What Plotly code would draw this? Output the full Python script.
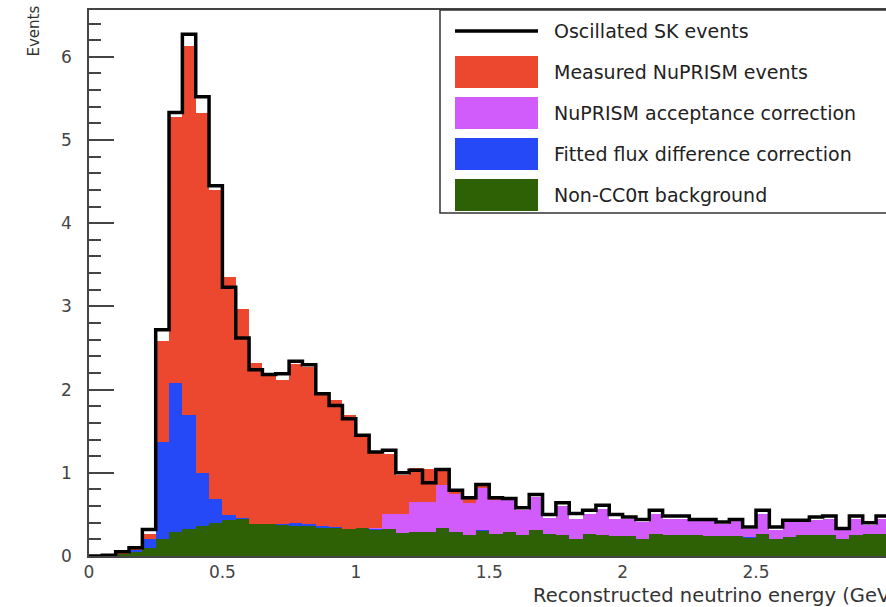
import numpy as np
import plotly.graph_objects as go

# 60 bins of 0.05 GeV from 0 to 3 GeV
bin_edges = np.round(np.arange(0, 3.0001, 0.05), 3)
bin_centres = (bin_edges[:-1] + bin_edges[1:]) / 2

# Oscillated SK events (black outline)
sk_events = [0.0, 0.01, 0.05, 0.10, 0.32, 2.72, 5.33, 6.27, 5.52, 4.45,
             3.23, 2.62, 2.24, 2.18, 2.19, 2.34, 2.30, 1.95, 1.81, 1.65,
             1.45, 1.25, 1.27, 1.00, 1.03, 0.88, 1.04, 0.79, 0.70, 0.86,
             0.70, 0.69, 0.58, 0.74, 0.50, 0.64, 0.51, 0.55, 0.61, 0.50,
             0.47, 0.44, 0.55, 0.48, 0.48, 0.44, 0.44, 0.41, 0.44, 0.35,
             0.55, 0.35, 0.43, 0.43, 0.47, 0.48, 0.33, 0.48, 0.40, 0.48]

# stack tops (cumulative), drawn back to front
measured_top = [0.0, 0.01, 0.05, 0.09, 0.27, 2.58, 5.28, 6.13, 5.32, 4.40,
                3.35, 2.97, 2.32, 2.16, 2.11, 2.31, 2.27, 1.93, 1.87, 1.69,
                1.44, 1.24, 1.23, 0.97, 1.06, 1.05, 1.06, 0.80, 0.68, 0.88,
                0.68, 0.67, 0.55, 0.71, 0.46, 0.60, 0.45, 0.51, 0.57, 0.45,
                0.45, 0.41, 0.51, 0.45, 0.44, 0.42, 0.42, 0.39, 0.43, 0.33,
                0.51, 0.31, 0.42, 0.41, 0.43, 0.44, 0.31, 0.45, 0.37, 0.45]

acceptance_top = [0.0, 0.0, 0.03, 0.07, 0.20, 1.37, 2.08, 1.69, 1.00, 0.69,
                  0.49, 0.46, 0.39, 0.39, 0.38, 0.40, 0.39, 0.36, 0.35, 0.33,
                  0.34, 0.34, 0.51, 0.51, 0.65, 0.65, 0.85, 0.74, 0.64, 0.82,
                  0.67, 0.67, 0.55, 0.71, 0.46, 0.60, 0.45, 0.51, 0.57, 0.45,
                  0.45, 0.41, 0.51, 0.45, 0.44, 0.42, 0.42, 0.39, 0.43, 0.33,
                  0.51, 0.31, 0.42, 0.41, 0.43, 0.44, 0.31, 0.45, 0.37, 0.45]

flux_top = [0.0, 0.0, 0.03, 0.07, 0.20, 1.37, 2.08, 1.69, 1.00, 0.69,
            0.49, 0.46, 0.39, 0.39, 0.38, 0.40, 0.39, 0.36, 0.35, 0.33,
            0.34, 0.32, 0.33, 0.28, 0.29, 0.29, 0.34, 0.29, 0.25, 0.31,
            0.27, 0.29, 0.25, 0.31, 0.26, 0.25, 0.21, 0.27, 0.25, 0.24,
            0.24, 0.20, 0.27, 0.25, 0.25, 0.25, 0.24, 0.24, 0.24, 0.23,
            0.27, 0.20, 0.23, 0.25, 0.25, 0.25, 0.20, 0.25, 0.27, 0.27]

background_top = [0.0, 0.0, 0.02, 0.05, 0.10, 0.21, 0.29, 0.33, 0.36, 0.40,
                  0.43, 0.44, 0.38, 0.38, 0.37, 0.36, 0.36, 0.34, 0.34, 0.33,
                  0.34, 0.31, 0.33, 0.28, 0.29, 0.29, 0.34, 0.29, 0.25, 0.30,
                  0.26, 0.29, 0.25, 0.31, 0.26, 0.25, 0.21, 0.27, 0.25, 0.24,
                  0.24, 0.20, 0.26, 0.25, 0.25, 0.25, 0.24, 0.24, 0.24, 0.22,
                  0.27, 0.20, 0.23, 0.25, 0.25, 0.25, 0.20, 0.25, 0.27, 0.27]

labels = ['Oscillated SK events', 'Measured NuPRISM events',
          'NuPRISM acceptance correction', 'Fitted flux difference correction',
          'Non-CC0\u03c0 background']
colours = ['#000000', '#EC4830', '#D25BFB', '#2549F7', '#2E6006']

FONT = 'DejaVu Sans'
W, H = 886, 607
L, R, T, B = 89, 0, 10, 51


def px(x, y):
    # pixel -> paper coords
    return (x - L) / (W - L - R), (H - B - y) / (H - T - B)


fig = go.Figure()

for top, col, name in zip([measured_top, acceptance_top, flux_top, background_top],
                          colours[1:], labels[1:]):
    fig.add_trace(go.Bar(x=bin_centres, y=top, width=0.05, name=name,
                         marker=dict(color=col, line=dict(width=0))))

fig.add_trace(go.Scatter(x=bin_edges, y=sk_events + [sk_events[-1]], mode='lines',
                         line=dict(color='black', width=3.5, shape='hv'),
                         name=labels[0]))

# legend drawn by hand (ROOT style box)
shapes = []
x0, y0 = px(440, 10)
x1, y1 = px(900, 213)
shapes.append(dict(type='rect', xref='paper', yref='paper', x0=x0, x1=x1, y0=y1, y1=y0,
                   line=dict(color='#333', width=1.5), fillcolor='white', layer='above'))
annotations = []
row_y = [31, 72, 113, 154, 195]
for i, (lab, col) in enumerate(zip(labels, colours)):
    yc = row_y[i]
    if i == 0:
        a, b = px(455, yc)
        c, d = px(538, yc)
        shapes.append(dict(type='line', xref='paper', yref='paper', x0=a, x1=c, y0=b, y1=d,
                           line=dict(color='black', width=3.5), layer='above'))
    else:
        a, b = px(455, yc - 16)
        c, d = px(538, yc + 16)
        shapes.append(dict(type='rect', xref='paper', yref='paper', x0=a, x1=c, y0=d, y1=b,
                           line=dict(width=0), fillcolor=col, layer='above'))
    tx, ty = px(552, yc)
    annotations.append(dict(text=lab, xref='paper', yref='paper', x=tx, y=ty,
                            xanchor='left', yanchor='middle', showarrow=False,
                            font=dict(family=FONT, size=19, color='#222')))

tx, ty = px(531, 595)
annotations.append(dict(text='Reconstructed neutrino energy (GeV)', xref='paper', yref='paper',
                        x=tx, y=ty, xanchor='left', yanchor='middle', showarrow=False,
                        font=dict(family=FONT, size=19.5, color='#333')))
tx, ty = px(33, 4)
annotations.append(dict(text='Events', xref='paper', yref='paper', x=tx, y=ty,
                        xanchor='center', yanchor='top', textangle=-90, showarrow=False,
                        font=dict(family=FONT, size=15, color='#333')))

fig.update_layout(
    width=W, height=H,
    margin=dict(l=L, r=R, t=T, b=B, autoexpand=False),
    barmode='overlay', bargap=0,
    showlegend=False,
    plot_bgcolor='white', paper_bgcolor='white',
    font=dict(family=FONT, color='#444'),
    shapes=shapes, annotations=annotations,
)
fig.update_xaxes(range=[0, (W - L - R) / 266.8], dtick=0.5, showgrid=False, zeroline=False,
                 showline=True, mirror=True, linecolor='#444', linewidth=1.5, automargin=False,
                 ticks='', tickfont=dict(size=17, color='#444'), ticklabelstandoff=0)
fig.update_yaxes(range=[0, (H - T - B) / 83.2], dtick=1, showgrid=False, zeroline=False,
                 showline=True, linecolor='#444', linewidth=1.5, automargin=False,
                 ticks='inside', ticklen=25, tickwidth=1.5, tickcolor='#444',
                 minor=dict(dtick=0.2, ticks='inside', ticklen=12, tickwidth=1.5, tickcolor='#444'),
                 tickfont=dict(size=17, color='#444'), ticklabelstandoff=12)

# page has a default 8px body margin; drop it so the figure sits at the corner
fig.write_html("out.html", config={'displayModeBar': False},
               post_script="document.body.style.margin='0';document.body.style.overflow='hidden';")
